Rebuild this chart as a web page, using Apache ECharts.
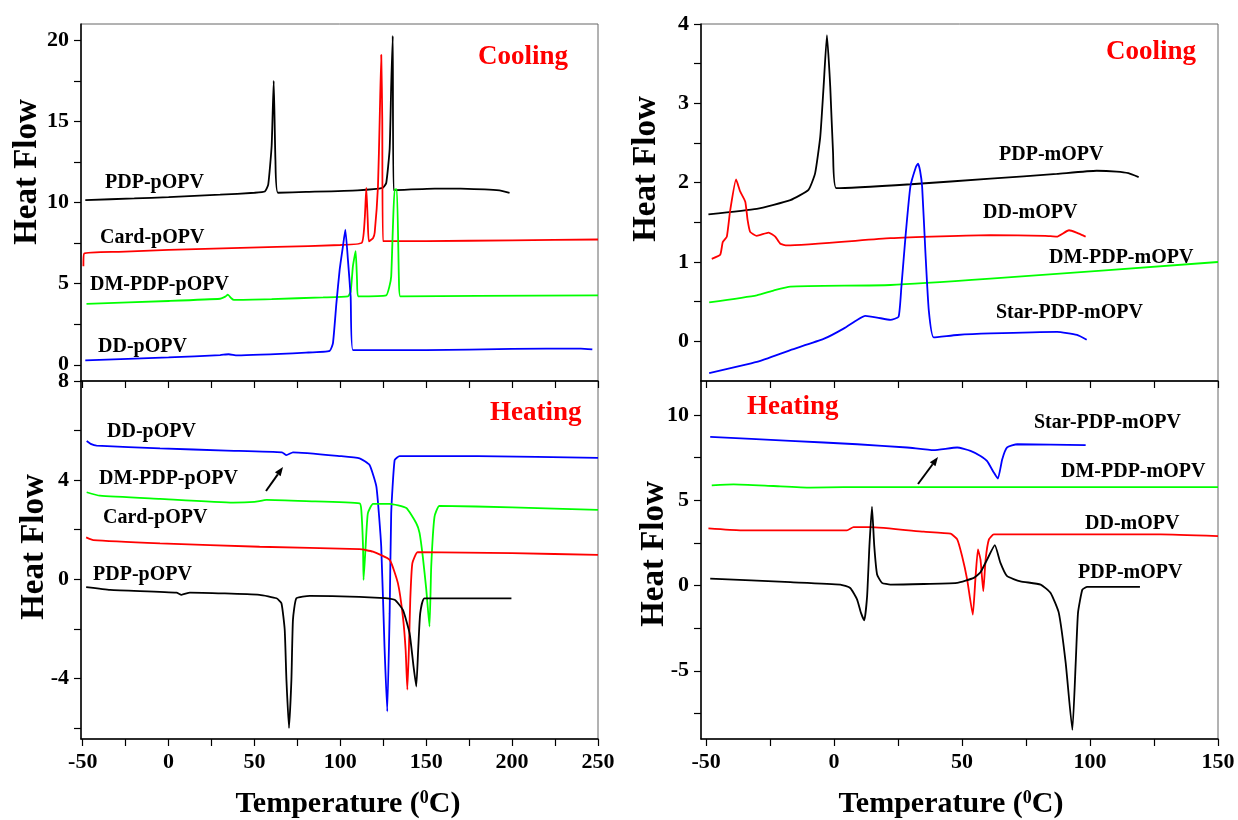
<!DOCTYPE html>
<html>
<head>
<meta charset="utf-8">
<title>DSC heating / cooling curves</title>
<script src="https://cdn.jsdelivr.net/npm/echarts@6/dist/echarts.min.js"></script>
<style>
  html, body { margin: 0; padding: 0; background: #fff; }
  #chart { width: 1238px; height: 820px; }
</style>
</head>
<body>
<div id="chart"></div>
<script>
// ---- tick positions ----
const leftXLabels = [-50, 0, 50, 100, 150, 200, 250];
const leftXTicks = [-50, -25, 0, 25, 50, 75, 100, 125, 150, 175, 200, 225, 250];
const rightXLabels = [-50, 0, 50, 100, 150];
const rightXTicks = [-50, -25, 0, 25, 50, 75, 100, 125, 150];
const coolPLabels = [0, 5, 10, 15, 20];
const coolPTicks = [0, 2.5, 5, 7.5, 10, 12.5, 15, 17.5, 20];
const heatPLabels = [-4, 0, 4, 8];
const heatPTicks = [-6, -4, -2, 0, 2, 4, 6, 8];
const coolMLabels = [0, 1, 2, 3, 4];
const coolMTicks = [0, 0.5, 1, 1.5, 2, 2.5, 3, 3.5, 4];
const heatMLabels = [-5, 0, 5, 10];
const heatMTicks = [-7.5, -5, -2.5, 0, 2.5, 5, 7.5, 10];

// ---- cooling, pOPV  [T, heat flow] ----
const coolPdpP = [[-48.5,10.15],[-20,10.25],[0,10.33],[30,10.48],[50,10.6],[56,10.68],[58,11.1],[60,13.5],[61.2,17.5],[62.2,12.6],[63.7,10.6],[80,10.65],[110,10.75],[124.6,10.9],[126.7,11.2],[128.7,13.3],[129.6,17.2],[130.5,20.27],[131,10.76],[155,10.86],[170,10.85],[192.6,10.75],[198.5,10.6]];
const coolCardP = [[-49.6,6.07],[-49.2,6.85],[-29,6.96],[0,7.08],[63,7.26],[100,7.38],[112.5,7.52],[114.2,9],[115.1,10.9],[115.9,9],[116.6,7.6],[119,7.8],[120,8.15],[121.9,11],[122.9,15.1],[123.8,19.1],[124.4,15.1],[124.8,7.62],[150,7.62],[200,7.67],[250,7.72]];
const coolDmP = [[-47.8,3.75],[0,3.93],[30,4.07],[33,4.2],[34.5,4.32],[36.5,4.1],[38,4.0],[60,4.05],[90,4.15],[104.4,4.22],[106,4.5],[107.3,6.07],[108.9,7.0],[109.7,5.25],[110.3,4.22],[126.7,4.28],[128.5,4.8],[129.6,5.45],[130.6,8.5],[131.6,10.8],[132.9,10.8],[134.1,5.25],[134.9,4.22],[180,4.25],[250,4.28]];
const coolDdP = [[-48.5,0.27],[0,0.45],[30,0.6],[35,0.65],[40,0.58],[80,0.75],[93.8,0.86],[95.7,1.34],[97.7,3.8],[99.6,5.86],[101.5,7.3],[102.9,8.33],[104.4,6.48],[106,4.2],[107.3,0.9],[150,0.9],[200,0.98],[240,1.0],[246.7,0.95]];

// ---- heating, pOPV ----
const heatDdP = [[-47.7,5.58],[-45,5.45],[-41.9,5.39],[-5,5.28],[33.7,5.19],[66,5.12],[68.6,5.01],[72.4,5.12],[100,4.97],[111.2,4.88],[117,4.61],[121,3.73],[123.8,1.31],[125.7,-2.72],[127.3,-5.34],[128.7,-1.37],[129.6,2.66],[131.6,4.81],[134.5,4.97],[180,4.97],[250,4.9]];
const heatDmP = [[-47.7,3.51],[-40,3.37],[-5,3.24],[37.6,3.09],[50,3.12],[57,3.2],[80,3.15],[111.2,3.06],[112.2,2.79],[113.2,1.31],[113.5,-0.03],[114.7,1.31],[116,2.66],[119,3.04],[128.7,3.04],[138.4,2.87],[144.2,2.26],[146.1,1.87],[148,0.91],[150,-0.4],[151.9,-1.91],[152.9,0.51],[154.8,2.52],[157.7,2.96],[200,2.9],[250,2.8]];
const heatCardP = [[-48,1.69],[-43.8,1.58],[-5,1.45],[53,1.31],[111.2,1.21],[119,1.11],[128.7,0.78],[133.5,-0.16],[136.4,-1.51],[138,-2.85],[139,-4.46],[139.9,-2.85],[140.7,-0.83],[141.9,0.64],[145.1,1.09],[200,1.05],[250,0.98]];
const heatPdpP = [[-48,-0.32],[-34,-0.43],[4.6,-0.54],[7.5,-0.63],[12.4,-0.54],[53,-0.63],[62.8,-0.77],[65.7,-0.97],[67.6,-2.04],[68.6,-4.06],[70.1,-6.01],[71.5,-4.06],[72.4,-1.64],[74.4,-0.77],[82.2,-0.67],[122.9,-0.75],[131.6,-0.83],[136.4,-1.24],[140.3,-2.18],[142.6,-3.52],[144.2,-4.33],[145.3,-2.85],[146.5,-1.37],[149,-0.77],[199.6,-0.77]];

// ---- cooling, mOPV ----
const coolPdpM = [[-49.1,1.6],[-30.2,1.67],[-17.1,1.78],[-10,1.91],[-7.4,2.12],[-5.4,2.58],[-4.1,3.21],[-2.8,3.86],[-1.5,3.21],[-0.4,2.37],[0.9,1.93],[30,1.98],[61.1,2.05],[87,2.11],[102.6,2.15],[110.4,2.14],[115,2.12],[119,2.07]];
const coolDdM = [[-47.8,1.04],[-44.5,1.09],[-43.5,1.25],[-41.9,1.32],[-40.6,1.65],[-38.3,2.04],[-36.7,1.89],[-34.7,1.76],[-33.8,1.53],[-32.8,1.38],[-30.2,1.33],[-25.6,1.37],[-23,1.32],[-21,1.23],[-18.4,1.21],[22,1.3],[61.1,1.34],[82.5,1.33],[87,1.32],[91.8,1.4],[94.7,1.37],[98.3,1.32]];
const coolDmM = [[-48.8,0.49],[-30.2,0.58],[-23.7,0.64],[-17.1,0.69],[22,0.71],[61.1,0.79],[150,1.0]];
const coolStarM = [[-48.8,-0.4],[-30.2,-0.26],[-17.1,-0.11],[-4.1,0.03],[3.7,0.16],[9,0.27],[12.2,0.32],[16.8,0.3],[22,0.27],[25.2,0.31],[26.3,0.69],[27.9,1.32],[29.8,1.95],[32,2.2],[32.8,2.24],[33.6,2.15],[34.4,1.95],[35.7,1.11],[37,0.39],[38.9,0.05],[48.1,0.08],[61.1,0.1],[87.1,0.12],[94.9,0.08],[98.7,0.02]];

// ---- heating, mOPV ----
const heatStarM = [[-48.4,8.72],[-17.1,8.49],[9,8.29],[28.5,8.1],[38.9,7.94],[48.1,8.1],[53.3,7.9],[57.2,7.6],[59.8,7.3],[62.4,6.63],[64,6.27],[65.7,7.41],[67.6,8.1],[71.6,8.29],[98.3,8.24]];
const heatDmM = [[-47.8,5.88],[-39.3,5.94],[-23.7,5.84],[-9.3,5.75],[3.7,5.78],[150,5.78]];
const heatDdM = [[-49.1,3.35],[-36.7,3.24],[5,3.24],[7.6,3.43],[14.2,3.43],[35,3.16],[45.5,3.04],[48.1,2.71],[50,1.73],[52,0.35],[54.2,-1.71],[55.2,0.35],[56.2,2.12],[57.2,1.53],[58.3,-0.33],[59.2,1.53],[60.5,2.71],[62.4,3.0],[127.6,3.0],[150,2.9]];
const heatPdpM = [[-48.4,0.41],[-17.1,0.2],[2.4,0.06],[6.3,-0.14],[9,-0.82],[10.5,-1.6],[11.8,-2.04],[12.9,-0.63],[13.8,2.31],[14.8,4.63],[15.7,2.31],[16.8,0.65],[18.7,0.16],[22,0.06],[48.1,0.16],[54.6,0.45],[57.2,0.78],[59.8,1.53],[62.8,2.37],[65,1.33],[67.6,0.55],[72.8,0.25],[80.7,0.06],[84.6,-0.43],[87.8,-1.6],[90.5,-4.55],[93.1,-8.47],[94.4,-4.55],[95.3,-1.6],[97,-0.24],[98.9,-0.08],[119.5,-0.08]];

const FONT = "'Liberation Serif', 'Times New Roman', serif";
const C = { black: "#000000", red: "#ff0000", green: "#00ff00", blue: "#0000ff" };

const chart = echarts.init(document.getElementById("chart"), null, { renderer: "canvas" });

function xAxis(gridIndex, min, max, labels, ticks, showLabels) {
  return {
    type: "value", gridIndex, min, max,
    axisLine: { show: true, onZero: false, lineStyle: { color: "#000", width: 1.5 } },
    axisTick: { show: true, inside: false, length: 7, customValues: ticks, lineStyle: { color: "#000", width: 1.2 } },
    axisLabel: {
      show: showLabels, customValues: labels, margin: 12,
      fontFamily: FONT, fontWeight: "bold", fontSize: 22, color: "#000"
    },
    splitLine: { show: false }
  };
}

function yAxis(gridIndex, min, max, labels, ticks) {
  return {
    type: "value", gridIndex, min, max,
    axisLine: { show: true, onZero: false, lineStyle: { color: "#000", width: 1.5 } },
    axisTick: { show: true, inside: false, length: 7, customValues: ticks, lineStyle: { color: "#000", width: 1.2 } },
    axisLabel: {
      customValues: labels, margin: 12,
      fontFamily: FONT, fontWeight: "bold", fontSize: 22, color: "#000"
    },
    splitLine: { show: false }
  };
}

function line(data, color, idx) {
  return {
    type: "line", data, xAxisIndex: idx, yAxisIndex: idx,
    showSymbol: false, symbol: "none", smooth: 0.15, animation: false,
    lineStyle: { color, width: 1.8 }, z: 3
  };
}

function label(text, x, y, color, size) {
  return {
    type: "text", x, y, z: 10,
    style: {
      text, x: 0, y: 0, fill: color || "#000",
      font: "bold " + (size || 20) + "px " + FONT,
      textAlign: "left", align: "left", textVerticalAlign: "middle", verticalAlign: "middle"
    }
  };
}

function heatFlowTitle(x, y) {
  return {
    type: "text", x, y, rotation: Math.PI / 2, z: 10,
    style: {
      text: "Heat Flow", x: 0, y: 0, fill: "#000",
      font: "bold 33px " + FONT,
      textAlign: "center", align: "center", textVerticalAlign: "middle", verticalAlign: "middle"
    }
  };
}

function tempTitle(x, y) {
  return {
    type: "text", x, y, z: 10,
    style: {
      text: "{b|Temperature (}{s|0}{b|C)}", x: 0, y: 0,
      textAlign: "center", align: "center", textVerticalAlign: "middle", verticalAlign: "middle",
      rich: {
        b: { fontFamily: FONT, fontWeight: "bold", fontSize: 30, fill: "#000", color: "#000" },
        s: { fontFamily: FONT, fontWeight: "bold", fontSize: 18, fill: "#000", color: "#000", verticalAlign: "top" }
      }
    }
  };
}

function arrow(x1, y1, x2, y2) {
  const ang = Math.atan2(y2 - y1, x2 - x1);
  const len = 9, half = 3.5;
  const bx = x2 - len * Math.cos(ang), by = y2 - len * Math.sin(ang);
  const px = -Math.sin(ang) * half, py = Math.cos(ang) * half;
  return [
    { type: "line", z: 10, shape: { x1, y1, x2: bx, y2: by }, style: { stroke: "#000", lineWidth: 2 } },
    { type: "polygon", z: 10, shape: { points: [[x2, y2], [bx + px, by + py], [bx - px, by - py]] }, style: { fill: "#000" } }
  ];
}

const gridStyle = { show: true, borderColor: "#666", borderWidth: 1, backgroundColor: "transparent" };

chart.setOption({
  backgroundColor: "#ffffff",
  animation: false,
  grid: [
    { left: 81, top: 24, width: 517, height: 357, ...gridStyle },
    { left: 81, top: 381, width: 517, height: 358, ...gridStyle },
    { left: 701, top: 24, width: 517, height: 357, ...gridStyle },
    { left: 701, top: 381, width: 517, height: 358, ...gridStyle }
  ],
  xAxis: [
    xAxis(0, -51, 250, leftXLabels, leftXTicks, false),
    xAxis(1, -51, 250, leftXLabels, leftXTicks, true),
    xAxis(2, -52, 150, rightXLabels, rightXTicks, false),
    xAxis(3, -52, 150, rightXLabels, rightXTicks, true)
  ],
  yAxis: [
    yAxis(0, -1, 21, coolPLabels, coolPTicks),
    yAxis(1, -6.45, 8, heatPLabels, heatPTicks),
    yAxis(2, -0.5, 4, coolMLabels, coolMTicks),
    yAxis(3, -9, 12, heatMLabels, heatMTicks)
  ],
  series: [
    line(coolPdpP, C.black, 0),
    line(coolCardP, C.red, 0),
    line(coolDmP, C.green, 0),
    line(coolDdP, C.blue, 0),
    line(heatDdP, C.blue, 1),
    line(heatDmP, C.green, 1),
    line(heatCardP, C.red, 1),
    line(heatPdpP, C.black, 1),
    line(coolPdpM, C.black, 2),
    line(coolDdM, C.red, 2),
    line(coolDmM, C.green, 2),
    line(coolStarM, C.blue, 2),
    line(heatStarM, C.blue, 3),
    line(heatDmM, C.green, 3),
    line(heatDdM, C.red, 3),
    line(heatPdpM, C.black, 3)
  ],
  graphic: [
    label("PDP-pOPV", 105, 183),
    label("Card-pOPV", 100, 238),
    label("DM-PDP-pOPV", 90, 285),
    label("DD-pOPV", 98, 347),
    label("Cooling", 478, 57, C.red, 27),
    label("DD-pOPV", 107, 432),
    label("DM-PDP-pOPV", 99, 479),
    label("Card-pOPV", 103, 518),
    label("PDP-pOPV", 93, 575),
    label("Heating", 490, 413, C.red, 27),
    label("PDP-mOPV", 999, 155),
    label("DD-mOPV", 983, 213),
    label("DM-PDP-mOPV", 1049, 258),
    label("Star-PDP-mOPV", 996, 313),
    label("Cooling", 1106, 52, C.red, 27),
    label("Star-PDP-mOPV", 1034, 423),
    label("DM-PDP-mOPV", 1061, 472),
    label("DD-mOPV", 1085, 524),
    label("PDP-mOPV", 1078, 573),
    label("Heating", 747, 407, C.red, 27),
    heatFlowTitle(27, 172),
    heatFlowTitle(34, 547),
    heatFlowTitle(646, 169),
    heatFlowTitle(654, 554),
    tempTitle(348, 804),
    tempTitle(951, 804),
    ...arrow(266, 491, 283, 467),
    ...arrow(918, 484, 938, 457)
  ]
});
</script>
</body>
</html>
